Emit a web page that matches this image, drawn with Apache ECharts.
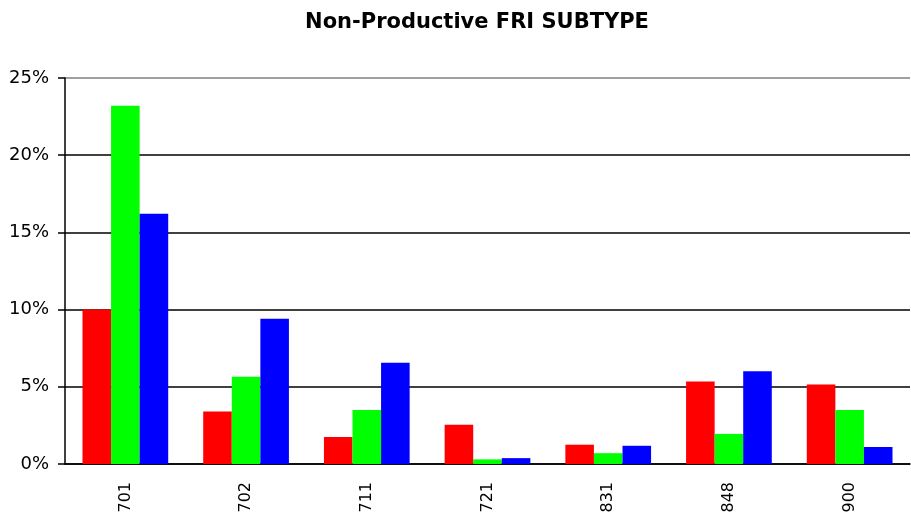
<!DOCTYPE html>
<html>
<head>
<meta charset="utf-8">
<script src="https://cdn.jsdelivr.net/npm/echarts@6/dist/echarts.min.js"></script>
<style>
  html, body { margin: 0; padding: 0; background: #fff; }
  #chart { width: 911px; height: 521px; }
</style>
</head>
<body>
<div id="chart"></div>
<script>
// subtype codes on the x axis
const categories = ["701", "702", "711", "721", "831", "848", "900"];
// percent values
const redValues = [10.0, 3.4, 1.75, 2.55, 1.25, 5.35, 5.15];
const greenValues = [23.2, 5.65, 3.5, 0.3, 0.7, 1.95, 3.5];
const blueValues = [16.2, 9.4, 6.55, 0.38, 1.18, 6.0, 1.1];

const chart = echarts.init(document.getElementById("chart"));

function barSeries(name, color, data) {
  return {
    name: name,
    type: "bar",
    data: data,
    barGap: "0%",
    barCategoryGap: "29%",
    itemStyle: { color: color },
  };
}

const option = {
  animation: false,
  backgroundColor: "#fff",
  title: {
    text: "Non-Productive FRI SUBTYPE",
    left: 472,
    textAlign: "center",
    top: 7,
    textStyle: {
      fontFamily: "DejaVu Sans",
      fontWeight: "bold",
      fontSize: 21,
      color: "#000",
    },
  },
  grid: { left: 65, right: 1, top: 78, bottom: 57 },
  xAxis: {
    type: "category",
    data: categories,
    axisLine: { lineStyle: { color: "#000", width: 1.5 } },
    axisTick: { length: 6, lineStyle: { color: "#000", width: 1.5 } },
    axisLabel: {
      rotate: 90,
      margin: 18,
      fontFamily: "DejaVu Sans",
      fontSize: 16,
      color: "#000",
    },
  },
  yAxis: {
    type: "value",
    min: 0,
    max: 25,
    interval: 5,
    axisLine: { show: true, lineStyle: { color: "#000", width: 1.5 } },
    axisTick: { show: true, length: 7, lineStyle: { color: "#000", width: 1.5 } },
    axisLabel: {
      formatter: "{value}%",
      margin: 16,
      fontFamily: "DejaVu Sans",
      fontSize: 18,
      color: "#000",
    },
    splitLine: {
      lineStyle: {
        // top border line is grey in the original
        color: ["#000", "#000", "#000", "#000", "#000", "#808080"],
        width: 1.5,
      },
    },
  },
  series: [
    barSeries("red", "#ff0000", redValues),
    barSeries("green", "#00ff00", greenValues),
    barSeries("blue", "#0000ff", blueValues),
  ],
};

chart.setOption(option);
</script>
</body>
</html>
